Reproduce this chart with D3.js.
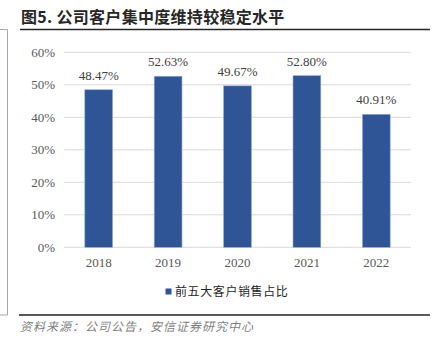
<!DOCTYPE html>
<html>
<head>
<meta charset="utf-8">
<script src="https://cdn.jsdelivr.net/npm/d3@7"></script>
<style>
  html, body { margin: 0; padding: 0; background: #fff; }
  svg { display: block; }
</style>
</head>
<body>
<script>
const categories = ["2018", "2019", "2020", "2021", "2022"];
const values = [0.4847, 0.5263, 0.4967, 0.5280, 0.4091];
const valueLabels = ["48.47%", "52.63%", "49.67%", "52.80%", "40.91%"];
const yTicks = [0, 0.1, 0.2, 0.3, 0.4, 0.5, 0.6];
const seriesName = "前五大客户销售占比";
const titleText = "图5. 公司客户集中度维持较稳定水平";
const sourceText = "资料来源：公司公告，安信证券研究中心";

const W = 435, H = 346;
const svg = d3.select("body").append("svg").attr("width", W).attr("height", H);
svg.append("rect").attr("width", W).attr("height", H).attr("fill", "#fff");

const serif = "'Liberation Serif', 'Times New Roman', serif";
const cjk = "'Noto Sans CJK SC', sans-serif";
const barColor = "#2F5597";

// frame fragment on the left
svg.append("path")
  .attr("d", "M0,29.5H7.5V315H0")
  .attr("fill", "none").attr("stroke", "#a6a6a6").attr("stroke-width", 1);

// title
svg.append("text").attr("x", 21).attr("y", 23)
  .attr("font-family", cjk).attr("font-size", 16).attr("font-weight", "bold")
  .attr("letter-spacing", 0.3).attr("fill", "#262626").text(titleText);
svg.append("line").attr("x1", 20).attr("x2", 430).attr("y1", 29.5).attr("y2", 29.5)
  .attr("stroke", "#262626").attr("stroke-width", 1.5);

// scales
const x = d3.scaleBand().domain(categories).range([64, 411]).paddingInner(0.6).paddingOuter(0.3);
const y = d3.scaleLinear().domain([0, 0.6]).range([247.3, 52.3]);

// gridlines
svg.append("g").selectAll("line").data(yTicks).join("line")
  .attr("x1", 64).attr("x2", 411)
  .attr("y1", d => y(d)).attr("y2", d => y(d))
  .attr("stroke", "#d9d9d9").attr("stroke-width", 1);

// y axis labels
const yAxis = d3.axisLeft(y).tickValues(yTicks).tickFormat(d3.format(".0%")).tickSize(0).tickPadding(9);
const gy = svg.append("g").attr("transform", "translate(64,0)").call(yAxis);
gy.select(".domain").remove();
gy.selectAll("text").attr("font-family", serif).attr("font-size", 13).attr("fill", "#595959");

// x axis labels
const xAxis = d3.axisBottom(x).tickSize(0).tickPadding(10);
const gx = svg.append("g").attr("transform", "translate(0,247.3)").call(xAxis);
gx.select(".domain").remove();
gx.selectAll("text").attr("font-family", serif).attr("font-size", 13).attr("fill", "#595959");

// bars
svg.append("g").selectAll("rect").data(categories).join("rect")
  .attr("x", d => x(d)).attr("width", x.bandwidth())
  .attr("y", (d, i) => y(values[i])).attr("height", (d, i) => y(0) - y(values[i]))
  .attr("fill", barColor).attr("stroke", "#8faadc").attr("stroke-width", 0.6);

// data labels
svg.append("g").selectAll("text").data(categories).join("text")
  .attr("x", d => x(d) + x.bandwidth() / 2)
  .attr("y", (d, i) => y(values[i]) - 10)
  .attr("text-anchor", "middle")
  .attr("font-family", serif).attr("font-size", 13).attr("fill", "#404040")
  .text((d, i) => valueLabels[i]);

// legend
svg.append("rect").attr("x", 165.5).attr("y", 288.5).attr("width", 6).attr("height", 6).attr("fill", barColor);
svg.append("text").attr("x", 175).attr("y", 296)
  .attr("font-family", cjk).attr("font-size", 12).attr("letter-spacing", 0.6)
  .attr("fill", "#262626").text(seriesName);

// bottom rule
svg.append("line").attr("x1", 19).attr("x2", 430).attr("y1", 315).attr("y2", 315)
  .attr("stroke", "#595959").attr("stroke-width", 2);

// source
svg.append("text").attr("x", 20).attr("y", 331)
  .attr("font-family", cjk).attr("font-size", 12).attr("font-style", "italic")
  .attr("letter-spacing", 1).attr("fill", "#7f7f7f").text(sourceText);
</script>
</body>
</html>
